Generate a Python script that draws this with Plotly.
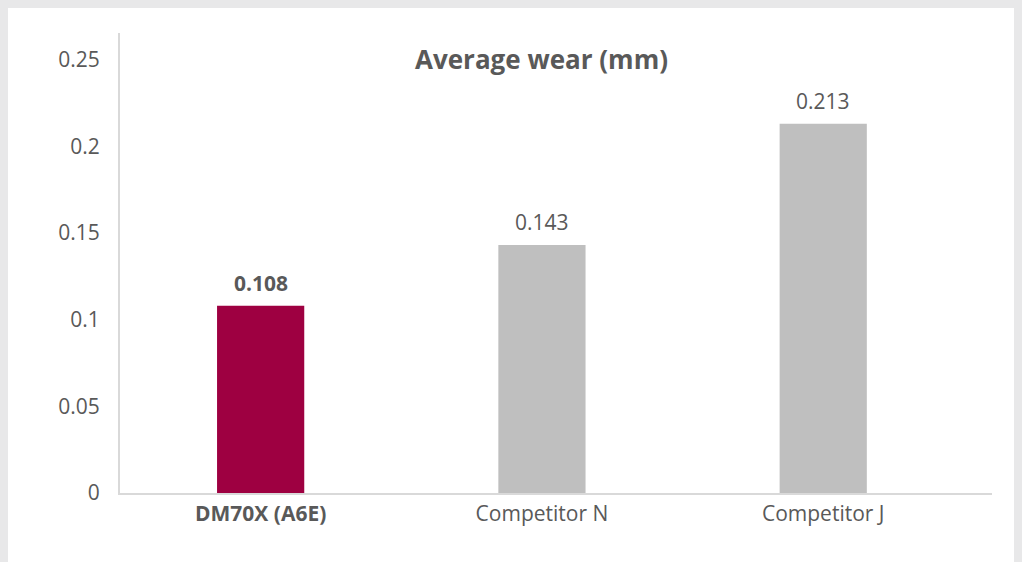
import plotly.graph_objects as go

categories = ["DM70X (A6E)", "Competitor N", "Competitor J"]
values = [0.108, 0.143, 0.213]
highlight = [True, False, False]
tick_vals = [0, 0.05, 0.1, 0.15, 0.2, 0.25]
tick_text = ["0", "0.05", "0.1", "0.15", "0.2", "0.25"]
title_text = "Average wear (mm)"

FONT = "Open Sans"
TXT = "#595959"
FRAME = "#E8E8E9"
colors = ["#9E0041" if h else "#BFBFBF" for h in highlight]
xlabels = [f"<b>{c}</b>" if h else c for c, h in zip(categories, highlight)]

# page offset of the figure inside the browser (body margin)
OX, OY = 8, 8
W, H = 1022 - OX, 562 - OY
L, R, T, B = 120 - OX, 30, 33 - OY, 69
pw, ph = W - L - R, H - T - B

fig = go.Figure()
fig.add_trace(go.Bar(
    x=list(range(len(categories))), y=values,
    marker=dict(color=colors, line=dict(width=0)),
    width=0.31, hoverinfo="skip",
))

for i, (v, h) in enumerate(zip(values, highlight)):
    t = f"{v:.3f}"
    fig.add_annotation(
        x=i, y=v, xref="x", yref="y",
        text=f"<b>{t}</b>" if h else t,
        showarrow=False, yanchor="bottom", yshift=7,
        font=dict(family=FONT, size=21, color=TXT),
    )

fig.add_shape(
    type="rect", xref="paper", yref="paper", layer="below",
    x0=-L / pw - 0.05, x1=(1018 - OX - L) / pw,
    y0=-0.3, y1=1.2,
    fillcolor="white", line=dict(width=0),
)

fig.update_layout(
    width=W, height=H,
    margin=dict(l=L, r=R, t=T, b=B, pad=0),
    paper_bgcolor=FRAME, plot_bgcolor="rgba(0,0,0,0)",
    showlegend=False,
    font=dict(family=FONT, size=21, color=TXT),
    title=dict(
        text=f"<b>{title_text}</b>", x=(541.5 - 120) / pw, xref="paper",
        xanchor="center", y=1 - (60 - OY) / H, yanchor="middle", yref="container",
        font=dict(family=FONT, size=26, color=TXT),
    ),
    xaxis=dict(
        range=[-0.5, 2.6], tickmode="array",
        tickvals=list(range(len(categories))), ticktext=xlabels,
        showgrid=False, zeroline=False, showline=True,
        linecolor="#D9D9D9", linewidth=2, ticks="",
        ticklabelstandoff=1,
        tickfont=dict(family=FONT, size=21, color=TXT),
    ),
    yaxis=dict(
        range=[0, 0.2653], tickmode="array",
        tickvals=tick_vals, ticktext=tick_text,
        showgrid=False, zeroline=False, showline=True,
        linecolor="#D9D9D9", linewidth=2, ticks="",
        ticklabelstandoff=14,
        tickfont=dict(family=FONT, size=21, color=TXT),
    ),
)

fig.write_html(
    "out.html",
    post_script="document.body.style.background='" + FRAME + "';"
                "document.documentElement.style.background='" + FRAME + "';",
)
